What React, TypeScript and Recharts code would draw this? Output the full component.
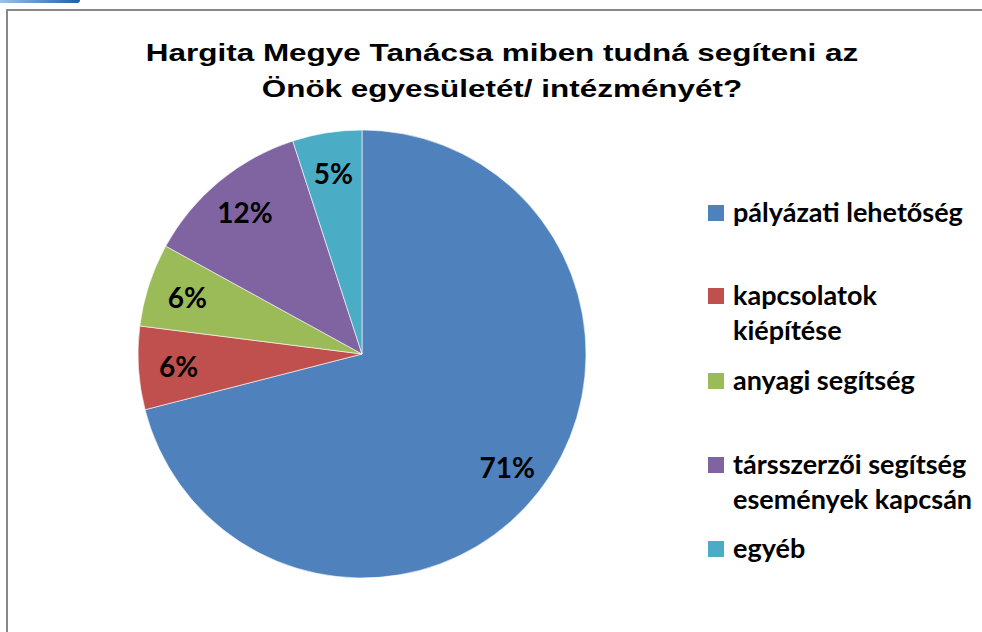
import { PieChart, Pie, Cell } from 'recharts';

const categories = [
  'pályázati lehetőség',
  'kapcsolatok kiépítése',
  'anyagi segítség',
  'társszerzői segítség események kapcsán',
  'egyéb',
];
const values = [71, 6, 6, 12, 5];
const legendLines = [
  ['pályázati lehetőség'],
  ['kapcsolatok', 'kiépítése'],
  ['anyagi segítség'],
  ['társszerzői segítség', 'események kapcsán'],
  ['egyéb'],
];
const colors = ['#4F81BD', '#C0504D', '#9BBB59', '#8064A2', '#4BACC6'];

const data = categories.map((name, i) => ({ name, value: values[i] }));

const RAD = Math.PI / 180;
const LABEL_FONT = 'Lato, "Open Sans", sans-serif';

const renderLabel = (props: any) => {
  const { cx, cy, midAngle, outerRadius, value } = props;
  const r = outerRadius * 0.82;
  const x = cx + r * Math.cos(-midAngle * RAD);
  const y = cy + r * Math.sin(-midAngle * RAD);
  return (
    <text
      x={x}
      y={y}
      textAnchor="middle"
      dominantBaseline="central"
      fill="#000"
      fontFamily={LABEL_FONT}
      fontWeight={700}
      fontSize={28}
    >
      {value}%
    </text>
  );
};

// legend row centres (y of first line)
const legendRows = [213, 296, 381, 465, 549];

const LegendBox = () => (
  <div style={{ position: 'absolute', left: 708, top: 0, width: 280, height: 632 }}>
    {legendLines.map((lines, i) => (
      <div key={i}>
        <div
          style={{
            position: 'absolute',
            left: 0,
            top: legendRows[i] - 8,
            width: 16,
            height: 16,
            background: colors[i],
          }}
        />
        {lines.map((t, j) => (
          <div
            key={j}
            style={{
              position: 'absolute',
              left: 25,
              top: legendRows[i] - 18 + j * 35,
              fontFamily: LABEL_FONT,
              fontWeight: 700,
              fontSize: 27,
              lineHeight: '34px',
              whiteSpace: 'nowrap',
              color: '#000',
            }}
          >
            {t}
          </div>
        ))}
      </div>
    ))}
  </div>
);

export default function App() {
  return (
    <div
      style={{
        position: 'absolute',
        left: 0,
        top: 0,
        width: 982,
        height: 632,
        overflow: 'hidden',
        background: '#fff',
      }}
    >
      <div
        style={{
          position: 'absolute',
          left: 0,
          top: 0,
          width: 80,
          height: 3,
          borderRadius: '0 0 4px 0',
          background: 'linear-gradient(90deg, #9cc3e6, #1f5fa8)',
        }}
      />
      <div
        style={{
          position: 'absolute',
          left: 6,
          top: 9,
          width: 1000,
          height: 700,
          border: '2px solid #888',
        }}
      />
      <div
        style={{
          position: 'absolute',
          left: 0,
          top: 35,
          width: 1004,
          textAlign: 'center',
          fontFamily: '"Liberation Sans", Arial, sans-serif',
          fontWeight: 700,
          fontSize: 24,
          lineHeight: '36px',
          color: '#000',
          transform: 'scaleX(1.31)',
          transformOrigin: '502px 0',
        }}
      >
        Hargita Megye Tanácsa miben tudná segíteni az
        <br />
        Önök egyesületét/ intézményét?
      </div>
      <div style={{ position: 'absolute', left: 0, top: 0 }}>
        <PieChart width={982} height={632} margin={{ top: 0, right: 0, bottom: 0, left: 0 }}>
          <Pie
            data={data}
            dataKey="value"
            nameKey="name"
            cx={362}
            cy={354}
            outerRadius={224}
            startAngle={90}
            endAngle={-270}
            stroke="#fff"
            strokeWidth={0.6}
            label={renderLabel}
            labelLine={false}
            isAnimationActive={false}
          >
            {data.map((_, i) => (
              <Cell key={i} fill={colors[i]} />
            ))}
          </Pie>
        </PieChart>
      </div>
      <LegendBox />
    </div>
  );
}
